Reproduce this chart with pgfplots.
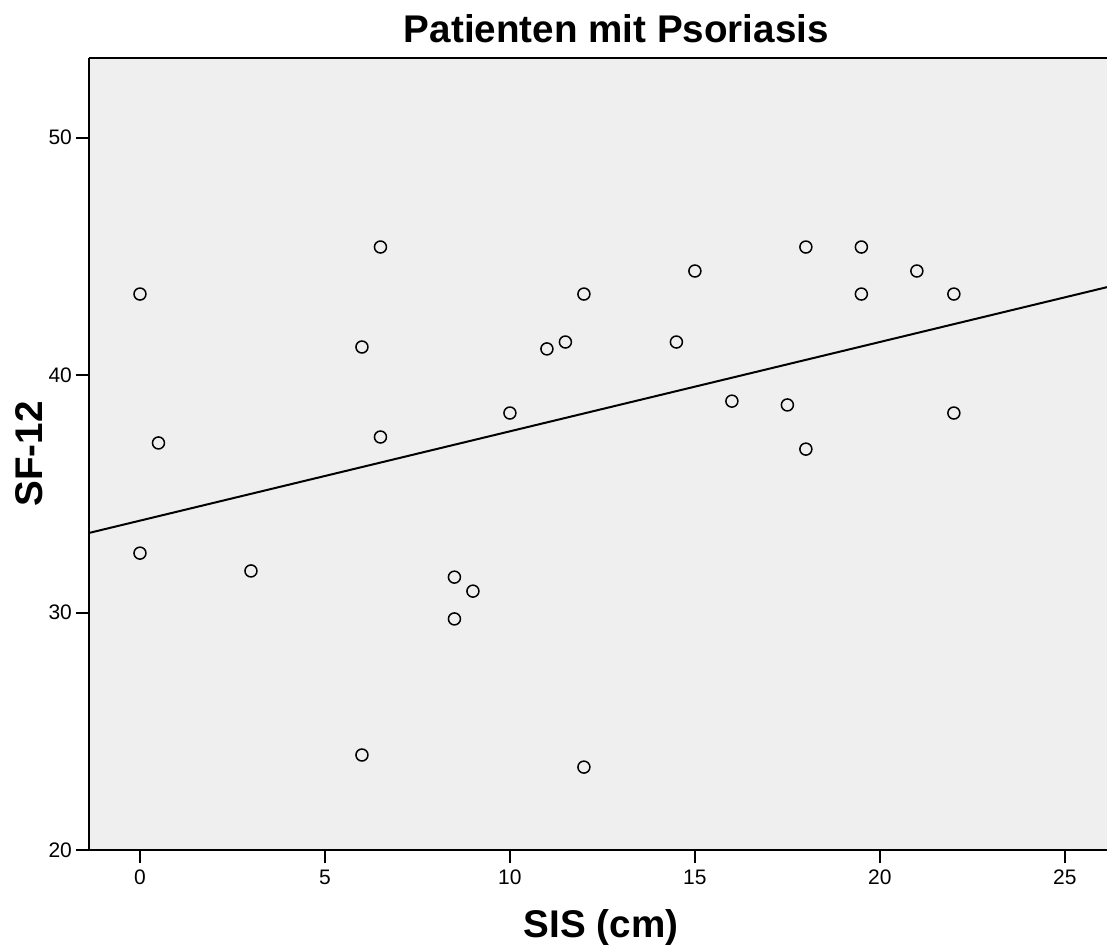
\documentclass[border=0pt]{standalone}
\usepackage{pgfplots}
\pgfplotsset{compat=1.18}
\usepackage{fontspec}
\setmainfont{Liberation Sans}
\begin{document}
\begin{tikzpicture}
\definecolor{plotbg}{HTML}{EFEFEF}
\begin{axis}[
    name=ax,
    at={(0,0)}, anchor=south west,
    scale only axis,
    width=509pt, height=396pt,
    xmin=-1.378, xmax=26.14,
    ymin=20, ymax=53.35,
    xtick={0,5,10,15,20,25},
    ytick={20,30,40,50},
    axis x line*=box,
    axis y line*=left,
    tick pos=left,
    tick align=outside,
    major tick length=6.5pt,
    every tick/.style={black, line width=1pt},
    axis line style={line width=1pt},
    axis background/.style={fill=plotbg},
    tick label style={font=\fontsize{10.5}{12}\selectfont},
    /pgf/number format/assume math mode=true,
    xticklabel style={yshift=0pt},
    yticklabel style={xshift=1.5pt},
    title={\bfseries Patienten mit Psoriasis},
    title style={font=\fontsize{19.3}{22}\selectfont, at={(0.518,1)}, anchor=south, yshift=-2pt},
    xlabel={\bfseries SIS (cm)},
    ylabel={\bfseries SF-12},
    label style={font=\fontsize{19.3}{22}\selectfont},
    xlabel style={at={(0.503,0)}, anchor=center, yshift=-39pt},
    ylabel style={at={(0,0.5)}, anchor=center, rotate=0, yshift=30pt},
    clip=true,
]
\addplot[black, line width=1pt] coordinates {(-1.378,33.35) (26.14,43.7)};
\addplot[only marks, mark=o, mark size=3pt, mark options={line width=0.75pt, black}] coordinates {
(0,43.41) (0.5,37.14) (0,32.5) (3,31.75) (6,41.18) (6.5,45.39) (6.5,37.39)
(6,24.0) (8.5,31.49) (8.5,29.73) (9,30.9) (10,38.4) (11,41.1) (11.5,41.39)
(12,43.41) (12,23.49) (14.5,41.39) (15,44.38) (16,38.9) (17.5,38.74)
(18,45.39) (18,36.88) (19.5,45.39) (19.5,43.41) (21,44.38) (22,43.41) (22,38.4)
};
\end{axis}
\pgfresetboundingbox
\path[use as bounding box] (-44.5pt,-48pt) rectangle (509pt,425pt);
\end{tikzpicture}
\end{document}
